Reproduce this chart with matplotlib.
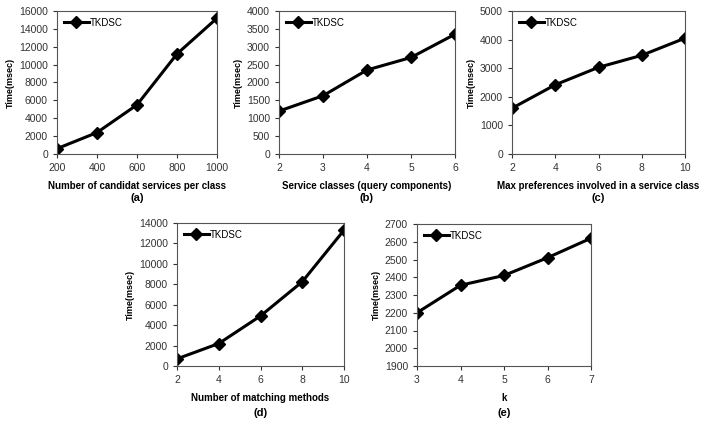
import matplotlib.pyplot as plt

plt.rcParams['font.family'] = ['Liberation Sans', 'DejaVu Sans']

W, H = 704, 424

# data
xa = [200, 400, 600, 800, 1000]
ya = [600, 2400, 5500, 11200, 15200]
xb = [2, 3, 4, 5, 6]
yb = [1200, 1630, 2350, 2700, 3350]
xc = [2, 4, 6, 8, 10]
yc = [1600, 2420, 3030, 3450, 4050]
xd = [2, 4, 6, 8, 10]
yd = [700, 2200, 4900, 8250, 13300]
xe = [3, 4, 5, 6, 7]
ye = [2200, 2355, 2410, 2510, 2620]

panels = [
    # x, y, xlabel, tag, ylim, ystep, box (left, top, right, bottom in px), tag offset
    (xa, ya, 'Number of candidat services per class', '(a)', (0, 16000), 2000, (57, 11, 217, 154), 44),
    (xb, yb, 'Service classes (query components)', '(b)', (0, 4000), 500, (279, 11, 455, 154), 44),
    (xc, yc, 'Max preferences involved in a service class', '(c)', (0, 5000), 1000, (512, 11, 685, 154), 44),
    (xd, yd, 'Number of matching methods', '(d)', (0, 14000), 2000, (177, 223, 344, 366), 47),
    (xe, ye, 'k', '(e)', (1900, 2700), 100, (417, 224, 591, 366), 47),
]

fig = plt.figure(figsize=(W / 100, H / 100), dpi=100)

for x, y, xlabel, tag, ylim, ystep, box, toff in panels:
    l, t, r, b = box
    ax = fig.add_axes([l / W, 1 - b / H, (r - l) / W, (b - t) / H])
    ax.plot(x, y, color='black', lw=2.2, marker='D', ms=6, label='TKDSC')
    ax.set_xlim(x[0], x[-1])
    ax.set_ylim(*ylim)
    ax.set_xticks(x)
    ax.set_yticks(range(ylim[0], ylim[1] + 1, ystep))
    ax.tick_params(labelsize=7.5, colors='#333333', length=3, width=0.8, direction='out')
    for s in ax.spines.values():
        s.set_color('#555555')
        s.set_linewidth(0.8)
    ax.set_ylabel('Time(msec)', fontsize=6.5, fontweight='bold', labelpad=3)
    ax.set_xlabel(xlabel, fontsize=7, fontweight='bold', labelpad=6)
    ax.text(0.5, -(toff / (b - t)), tag, transform=ax.transAxes, ha='center', va='center',
            fontsize=8, fontweight='bold')
    ax.legend(loc='upper left', frameon=False, fontsize=7, handlelength=2.6,
              borderaxespad=0.3, handletextpad=0.1)

fig.savefig('out.png', dpi=100)
